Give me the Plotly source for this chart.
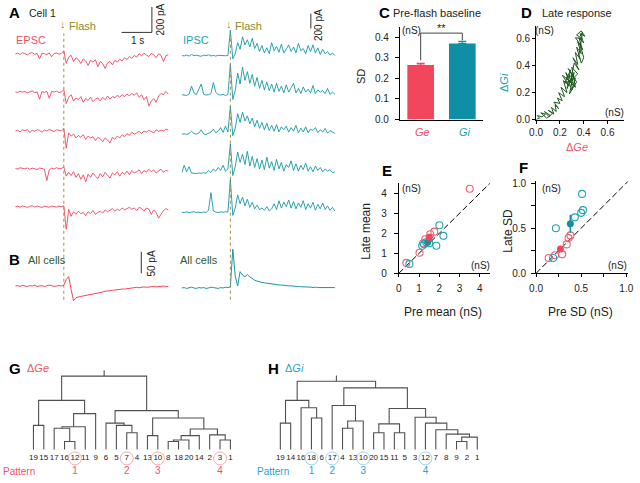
import plotly.graph_objects as go

W, H = 640, 483
FONT = "Liberation Sans, Arial, Helvetica, sans-serif"

RED = "#F2465C"; RED_TXT = "#EE5566"; RED_PALE = "#F2A0AA"
TEAL = "#1597A9"; TEAL_TXT = "#22A2B8"; TEAL_PALE = "#9ACFDC"
BLUE_TXT = "#2E9FD0"
GREEN = "#1E5A1E"; GREEN_TXT = "#2E5B2E"
OLIVE = "#8C8A2A"; DARK = "#222222"; GRAY = "#505050"

# ---------------- data ----------------
sample_interval_s = 0.08
flash_time_s = 1.6

# Panel A, EPSC trials (pA, inward = negative)
epsc_trial_1 = [0, 6, -4, 9, 2, -8, 5, 10, -3, 4, -38, 6, 2, -5, 8, -22, 3, 7, -2, 4,
                24, -75,
                -25, -10, -60, -30, -45, -75, -40, -55, -90, -50, -65, -45, -100, -60, -75, -115, -70, -60, -85, -50,
                -65, -40, -55, -30, -45, -20, -35, -12, -25, 2, -15, 6, -8, -20, 4, -6, -30, 2, -10, -60, -15, -5]
epsc_trial_2 = [3, -2, 8, 0, 5, -6, 2, 9, -4, 3, -55, 4, -2, 6, -48, 5, 0, 8, -3, 2,
                20, -90,
                -40, -20, -70, -45, -60, -35, -80, -50, -65, -40, -75, -55, -45, -70, -40, -60, -30, -55, -35, -45,
                -25, -40, -20, -35, -15, -30, -10, -25, -5, -40, -20, -60, -35, -110, -70, -50, -80, -30, -10, -20, 5, -15]
epsc_trial_3 = [-5, 0, -12, 4, -3, 6, -18, 2, -8, 5, 0, -15, 3, -6, 8, -2, -10, 4, 0, -4,
                15, -140,
                -20, -45, -30, -60, -40, -55, -35, -70, -45, -60, -50, -80, -55, -65, -90, -60, -75, -100, -55, -70,
                -45, -60, -35, -50, -25, -40, -15, -30, -20, -8, -25, -5, -15, 0, -10, -20, 4, -8, 2, -5, 8, 3]
epsc_trial_4 = [2, -4, 6, 0, -3, 5, -6, 3, 0, -8, 4, -2, -5, -95, -10, 3, -4, 6, -2, 0,
                12, -60,
                -30, -55, -25, -70, -40, -85, -50, -105, -45, -70, -35, -60, -80, -40, -65, -30, -55, -75, -35, -50,
                -25, -60, -30, -45, -20, -50, -15, -35, -25, -10, -40, -15, -30, -5, -25, -10, -35, -20, -5, -30, -15, -20]
epsc_trial_5 = [0, 4, -3, 6, 1, -5, 3, 8, -2, 5, 0, -6, 4, 2, -4, 6, 0, -3, 5, 1,
                8, -185,
                -20, -75, -40, -60, -35, -55, -45, -70, -40, -55, -30, -60, -45, -35, -50, -25, -40, -30, -15, -35,
                -20, -30, -10, -25, -15, -5, -20, -10, -30, -5, -15, -35, -10, -20, -60, -25, -45, -90, -60, -30, -15, -25]

# Panel A, IPSC trials (pA, outward = positive)
ipsc_trial_1 = [5, 0, 12, -3, 20, 4, 8, 0, -5, 10, 3, 15, 0, 6, -2, 8, 4, 10, 2, 6,
                350, -40,
                30, 180, 90, 260, 150, 220, 120, 240, 100, 170, 60, 140, 40, 110, 30, 180, 70, 130, 50, 160,
                40, 90, 150, 60, 120, 40, 170, 70, 100, 30, 140, 60, 150, 40, 110, 20, 90, 30, 60, 10, 40, 5]
ipsc_trial_2 = [5, 0, -5, 10, 120, 30, 5, 80, 150, 10, 0, 5, 20, 170, 40, 5, 0, 10, -5, 8,
                420, -60,
                60, 300, 150, 380, 200, 320, 160, 280, 120, 240, 90, 200, 70, 180, 60, 150, 40, 160, 50, 120,
                30, 140, 40, 100, 160, 30, 90, 20, 110, 40, 80, 30, 130, 20, 70, 40, 60, 20, 90, 10, 40, 10]
ipsc_trial_3 = [0, 5, -3, 8, 40, 10, 0, 15, 60, 5, -5, 10, 30, 70, 20, 40, 90, 25, 110, 30,
                380, -20,
                80, 280, 160, 300, 180, 250, 140, 220, 100, 190, 80, 160, 60, 150, 50, 120, 40, 130, 30, 100,
                60, 110, 30, 90, 40, 120, 20, 80, 30, 100, 20, 70, 50, 90, 20, 60, 30, 80, 15, 50, 25, 10]
ipsc_trial_4 = [10, 110, 20, 90, 5, 0, -3, 5, 0, 8, 2, 40, 10, 60, 30, 80, 40, 110, 30, 60,
                400, -30,
                90, 290, 150, 260, 120, 300, 100, 230, 80, 200, 60, 180, 50, 220, 70, 160, 40, 190, 60, 150,
                30, 120, 80, 170, 40, 130, 30, 110, 50, 140, 30, 90, 20, 100, 40, 80, 20, 60, 30, 50, 10, 20]
ipsc_trial_5 = [5, 0, 8, -2, 5, 10, 0, 4, -3, 6, 2, 30, 270, 20, 5, 0, 8, 3, 10, 5,
                450, -40,
                60, 240, 120, 210, 90, 180, 70, 140, 50, 100, 40, 60, 30, 80, 20, 50, 120, 40, 160, 60,
                140, 80, 170, 60, 150, 50, 130, 70, 160, 40, 120, 60, 140, 30, 110, 50, 130, 40, 90, 30, 70, 20]

# Panel B, averages over all cells (pA)
epsc_all_cells = [0, 1, -1, 2, 0, -1, 1, 0, 2, -1, 0, 1, -1, 0, 2, 1, -1, 0, 1, 0,
                  2, 15, 22, -8, -34, -27, -25, -24, -23, -22,
                  -20, -19, -18, -17, -16, -15, -14, -12, -12, -11,
                  -10, -9, -9, -8, -7, -7, -6, -5, -5, -4,
                  -3, -4, -3, -2, -3, -2, -2, -1, -2, -1, -1, 0, -1, -1]
ipsc_all_cells = [0, 1, -1, 0, 2, 0, -1, 1, 0, 1, -1, 0, 2, 1, 0, -1, 1, 0, 2, 1,
                  3, 90, 28, 5, 38, 30, 26, 31, 26, 21,
                  18, 16, 14, 13, 12, 11, 10, 9, 9, 8,
                  7, 7, 6, 6, 5, 5, 4, 4, 3, 3,
                  3, 2, 2, 2, 1, 2, 1, 1, 1, 0, 1, 0, 0, 1]

# Panel C
conductances = ["Ge", "Gi"]
baseline_sd_nS = [0.265, 0.370]
baseline_sd_sem = [0.008, 0.010]

# Panel D, late response trajectory (nS)
late_dGe = [0.00, 0.03, 0.01, 0.05, 0.08, 0.04, 0.09, 0.12, 0.07, 0.11,
            0.14, 0.10, 0.15, 0.13, 0.17, 0.16, 0.19, 0.15, 0.20, 0.18,
            0.22, 0.19, 0.24, 0.21, 0.26, 0.23, 0.28, 0.22, 0.27, 0.31,
            0.25, 0.30, 0.33, 0.24, 0.29, 0.26, 0.32, 0.28, 0.34, 0.27,
            0.31, 0.25, 0.33, 0.30, 0.35, 0.29, 0.32, 0.36, 0.31, 0.35,
            0.33, 0.37, 0.34, 0.38, 0.35, 0.39, 0.36, 0.40, 0.37, 0.41,
            0.38, 0.34, 0.39, 0.33, 0.37, 0.40, 0.38, 0.36, 0.39, 0.37]
late_dGi = [0.00, 0.01, 0.03, 0.02, 0.04, 0.05, 0.01, 0.03, 0.06, 0.02,
            0.05, 0.07, 0.04, 0.09, 0.06, 0.11, 0.08, 0.13, 0.12, 0.16,
            0.14, 0.20, 0.17, 0.24, 0.20, 0.29, 0.25, 0.33, 0.30, 0.27,
            0.35, 0.22, 0.31, 0.27, 0.37, 0.23, 0.35, 0.19, 0.28, 0.38,
            0.33, 0.31, 0.24, 0.39, 0.34, 0.29, 0.42, 0.37, 0.46, 0.41,
            0.50, 0.45, 0.54, 0.49, 0.58, 0.52, 0.61, 0.57, 0.64, 0.62,
            0.66, 0.63, 0.60, 0.61, 0.56, 0.46, 0.42, 0.48, 0.65, 0.62]

# Panel E (nS)
pre_mean_ge = [0.37, 1.02, 1.20, 1.30, 1.55, 1.75, 3.50]
late_mean_ge = [0.52, 1.03, 1.50, 1.70, 1.95, 2.08, 4.22]
pre_mean_gi = [0.52, 1.15, 1.25, 1.35, 1.50, 1.85, 2.00, 2.20]
late_mean_gi = [0.47, 1.38, 1.45, 1.55, 1.50, 1.38, 2.40, 1.87]
avg_mean_ge = [1.50, 1.80]; sem_mean_ge = [0.15, 0.18]
avg_mean_gi = [1.42, 1.55]; sem_mean_gi = [0.12, 0.12]

# Panel F (nS)
pre_sd_ge = [0.14, 0.21, 0.29, 0.34, 0.36, 0.38]
late_sd_ge = [0.17, 0.20, 0.21, 0.32, 0.39, 0.42]
pre_sd_gi = [0.19, 0.22, 0.43, 0.50, 0.52, 0.51]
late_sd_gi = [0.17, 0.50, 0.62, 0.67, 0.70, 0.88]
avg_sd_ge = [0.27, 0.27]; sem_sd_ge = [0.02, 0.03]
avg_sd_gi = [0.38, 0.55]; sem_sd_gi = [0.03, 0.10]

# Panels G / H, dendrograms (leaf order, merges: child a, child b, distance)
ge_leaves = ["19", "15", "17", "16", "12", "11", "9", "6", "5", "7", "4", "13", "10", "8", "18", "20", "14", "2", "3", "1"]
ge_merges = [(0, 1, 0.33), (3, 4, 0.11), (2, 21, 0.29), (22, 5, 0.31), (23, 6, 0.49), (20, 24, 0.67),
             (9, 10, 0.23), (8, 26, 0.33), (7, 27, 0.36), (11, 12, 0.19), (13, 14, 0.11), (30, 15, 0.13),
             (31, 16, 0.19), (18, 19, 0.13), (17, 33, 0.20), (32, 34, 0.28), (29, 35, 0.43), (28, 36, 0.53),
             (25, 37, 1.00)]
ge_pattern_leaves = ["12", "7", "10", "3"]
gi_leaves = ["19", "14", "16", "18", "6", "17", "4", "13", "10", "20", "15", "11", "5", "3", "12", "7", "8", "9", "2", "1"]
gi_merges = [(0, 1, 0.36), (3, 4, 0.43), (2, 21, 0.57), (20, 22, 0.67), (6, 7, 0.29), (24, 8, 0.39),
             (5, 25, 0.60), (9, 10, 0.23), (11, 12, 0.23), (27, 28, 0.35), (17, 18, 0.11), (30, 19, 0.17),
             (16, 31, 0.21), (15, 32, 0.27), (14, 33, 0.36), (13, 34, 0.44), (29, 35, 0.56), (26, 36, 0.84),
             (23, 37, 0.93)]
gi_pattern_leaves = ["18", "17", "10", "12"]
pattern_names = ["1", "2", "3", "4"]

# ---------------- layout helpers ----------------
def xd(p0, p1):
    return [p0 / W, p1 / W]

def yd(top, bottom):
    return [1 - bottom / H, 1 - top / H]

def hidden_axis(domain, rng, anchor):
    return dict(domain=domain, range=rng, visible=False, anchor=anchor, fixedrange=True)

TICKFONT = dict(family=FONT, size=10, color=DARK)

def shown_axis(domain, rng, anchor, **kw):
    d = dict(domain=domain, range=rng, anchor=anchor, showline=True, linecolor="black", linewidth=1,
             ticks="outside", ticklen=3, tickwidth=1, tickcolor="black", showgrid=False, zeroline=False,
             tickfont=TICKFONT, fixedrange=True)
    d.update(kw)
    return d

fig = go.Figure()
traces = []

# ----- Panel A geometry -----
PX_PER_S = 31.0
EL_X0 = 58 - flash_time_s * PX_PER_S     # px where t=0 (left)
IR_X0 = 228 - flash_time_s * PX_PER_S    # px where t=0 (right)
T_END = 5.1
E_BASE_PX, E_PX_PER_PA, E_GAP = 51, 26 / 200, 300
I_BASE_PX, I_PX_PER_PA, I_GAP = 53, 15 / 200, 533
A_TOP, A_BOT = 0, 230

layout = dict(
    xaxis=hidden_axis(xd(EL_X0, EL_X0 + T_END * PX_PER_S), [0, T_END], "y"),
    yaxis=hidden_axis(yd(A_TOP, A_BOT), [(E_BASE_PX - A_BOT) / E_PX_PER_PA, (E_BASE_PX - A_TOP) / E_PX_PER_PA], "x"),
    xaxis2=hidden_axis(xd(IR_X0, IR_X0 + T_END * PX_PER_S), [0, T_END], "y2"),
    yaxis2=hidden_axis(yd(A_TOP, A_BOT), [(I_BASE_PX - A_BOT) / I_PX_PER_PA, (I_BASE_PX - A_TOP) / I_PX_PER_PA], "x2"),
)

for k, tr in enumerate([epsc_trial_1, epsc_trial_2, epsc_trial_3, epsc_trial_4, epsc_trial_5]):
    traces.append(go.Scatter(x=[i * sample_interval_s for i in range(len(tr))], y=[v - k * E_GAP for v in tr],
                             mode="lines", line=dict(color=RED, width=0.9), xaxis="x", yaxis="y"))
for k, tr in enumerate([ipsc_trial_1, ipsc_trial_2, ipsc_trial_3, ipsc_trial_4, ipsc_trial_5]):
    traces.append(go.Scatter(x=[i * sample_interval_s for i in range(len(tr))], y=[v - k * I_GAP for v in tr],
                             mode="lines", line=dict(color=TEAL, width=0.9), xaxis="x2", yaxis="y2"))

# scale bars A
sb_y = (E_BASE_PX - 29) / E_PX_PER_PA
traces.append(go.Scatter(x=[3.5, 4.5, 4.5], y=[sb_y, sb_y, sb_y + 200], mode="lines",
                         line=dict(color="#333", width=1), xaxis="x", yaxis="y"))
sb_yi = (I_BASE_PX - 25) / I_PX_PER_PA
traces.append(go.Scatter(x=[4.25, 4.25], y=[sb_yi, sb_yi + 200], mode="lines",
                         line=dict(color="#333", width=1), xaxis="x2", yaxis="y2"))

# ----- Panel B -----
B_TOP, B_BOT, B_PX_PER_PA = 235, 312, 22 / 50
layout["xaxis3"] = hidden_axis(xd(EL_X0, EL_X0 + T_END * PX_PER_S), [0, T_END], "y3")
layout["yaxis3"] = hidden_axis(yd(B_TOP, B_BOT), [(288 - B_BOT) / B_PX_PER_PA, (288 - B_TOP) / B_PX_PER_PA], "x3")
layout["xaxis4"] = hidden_axis(xd(IR_X0, IR_X0 + T_END * PX_PER_S), [0, T_END], "y4")
layout["yaxis4"] = hidden_axis(yd(B_TOP, B_BOT), [(290 - B_BOT) / B_PX_PER_PA, (290 - B_TOP) / B_PX_PER_PA], "x4")
traces.append(go.Scatter(x=[i * sample_interval_s for i in range(len(epsc_all_cells))], y=epsc_all_cells,
                         mode="lines", line=dict(color=RED, width=1), xaxis="x3", yaxis="y3"))
traces.append(go.Scatter(x=[i * sample_interval_s for i in range(len(ipsc_all_cells))], y=ipsc_all_cells,
                         mode="lines", line=dict(color=TEAL, width=1), xaxis="x4", yaxis="y4"))
sb_b = (288 - 275) / B_PX_PER_PA
traces.append(go.Scatter(x=[4.15, 4.15], y=[sb_b, sb_b + 50], mode="lines",
                         line=dict(color="#333", width=1), xaxis="x3", yaxis="y3"))

# ----- Panel C -----
layout["xaxis5"] = shown_axis(xd(401, 486), [-0.5, 1.5], "y5", ticks="", showticklabels=False)
layout["yaxis5"] = shown_axis(yd(23, 118), [0, 0.452], "x5", tickvals=[0, 0.1, 0.2, 0.3, 0.4],
                              tickformat=".1f", ticklen=4, ticklabelstandoff=4)
for i, (c, col) in enumerate(zip(conductances, [RED, "#0E8FA6"])):
    traces.append(go.Bar(x=[i], y=[baseline_sd_nS[i]], width=0.64, marker=dict(color=col, line=dict(width=0)),
                         error_y=dict(type="data", symmetric=False, array=[baseline_sd_sem[i]], arrayminus=[0],
                                      color=col, thickness=1.2, width=4),
                         xaxis="x5", yaxis="y5"))
br_top = max(v + e for v, e in zip(baseline_sd_nS, baseline_sd_sem)) + 0.04
traces.append(go.Scatter(x=[0, 0, 1, 1],
                         y=[baseline_sd_nS[0] + baseline_sd_sem[0] + 0.015, br_top, br_top,
                            baseline_sd_nS[1] + baseline_sd_sem[1] + 0.005],
                         mode="lines", line=dict(color="#444", width=1), xaxis="x5", yaxis="y5"))

# ----- Panel D -----
layout["xaxis6"] = shown_axis(xd(540, 630), [0, 0.74], "y6", tickvals=[0, 0.2, 0.4, 0.6], tickformat=".1f")
layout["yaxis6"] = shown_axis(yd(22, 118), [0, 0.70], "x6", tickvals=[0, 0.2, 0.4, 0.6], tickformat=".1f")
traces.append(go.Scatter(x=late_dGe, y=late_dGi, mode="lines", line=dict(color=GREEN, width=1),
                         xaxis="x6", yaxis="y6"))

# ----- Panel E -----
layout["xaxis7"] = shown_axis(xd(400, 493), [0, 4.5], "y7", tickvals=[0, 1, 2, 3, 4], ticklabelstandoff=3)
layout["yaxis7"] = shown_axis(yd(183, 275), [0, 4.5], "x7", tickvals=[0, 1, 2, 3, 4], ticklen=4, ticklabelstandoff=5)
traces.append(go.Scatter(x=[0, 4.5], y=[0, 4.5], mode="lines", line=dict(color="black", width=1, dash="6px,3px"),
                         xaxis="x7", yaxis="y7"))
traces.append(go.Scatter(x=pre_mean_ge, y=late_mean_ge, mode="markers",
                         marker=dict(symbol="circle-open", size=7, color="#EE6070", line=dict(width=1.1)),
                         xaxis="x7", yaxis="y7"))
traces.append(go.Scatter(x=pre_mean_gi, y=late_mean_gi, mode="markers",
                         marker=dict(symbol="circle-open", size=7, color="#22A3B5", line=dict(width=1.1)),
                         xaxis="x7", yaxis="y7"))
traces.append(go.Scatter(x=[avg_mean_gi[0]], y=[avg_mean_gi[1]], mode="markers",
                         marker=dict(size=7, color="#13909F"),
                         error_x=dict(array=[sem_mean_gi[0]], color="#13909F", thickness=1.5, width=0),
                         error_y=dict(array=[sem_mean_gi[1]], color="#13909F", thickness=1.5, width=0),
                         xaxis="x7", yaxis="y7"))
traces.append(go.Scatter(x=[avg_mean_ge[0]], y=[avg_mean_ge[1]], mode="markers",
                         marker=dict(size=7, color=RED),
                         error_x=dict(array=[sem_mean_ge[0]], color=RED, thickness=1.5, width=0),
                         error_y=dict(array=[sem_mean_ge[1]], color=RED, thickness=1.5, width=0),
                         xaxis="x7", yaxis="y7"))

# ----- Panel F -----
qt = [0, 0.25, 0.5, 0.75, 1.0]
qtxt = ["0.0", "", "0.5", "", "1.0"]
layout["xaxis8"] = shown_axis(xd(540, 634), [0, 1.02], "y8", tickvals=qt, ticktext=qtxt, ticklabelstandoff=3)
layout["yaxis8"] = shown_axis(yd(181, 275), [0, 1.02], "x8", tickvals=qt, ticktext=qtxt, ticklen=4, ticklabelstandoff=3)
traces.append(go.Scatter(x=[0, 1.02], y=[0, 1.02], mode="lines", line=dict(color="black", width=1, dash="6px,3px"),
                         xaxis="x8", yaxis="y8"))
traces.append(go.Scatter(x=pre_sd_ge, y=late_sd_ge, mode="markers",
                         marker=dict(symbol="circle-open", size=7, color="#EE6070", line=dict(width=1.1)),
                         xaxis="x8", yaxis="y8"))
traces.append(go.Scatter(x=pre_sd_gi, y=late_sd_gi, mode="markers",
                         marker=dict(symbol="circle-open", size=7, color="#22A3B5", line=dict(width=1.1)),
                         xaxis="x8", yaxis="y8"))
traces.append(go.Scatter(x=[avg_sd_gi[0]], y=[avg_sd_gi[1]], mode="markers",
                         marker=dict(size=7, color="#13909F"),
                         error_x=dict(array=[sem_sd_gi[0]], color="#13909F", thickness=1.5, width=0),
                         error_y=dict(array=[sem_sd_gi[1]], color="#13909F", thickness=1.5, width=0),
                         xaxis="x8", yaxis="y8"))
traces.append(go.Scatter(x=[avg_sd_ge[0]], y=[avg_sd_ge[1]], mode="markers",
                         marker=dict(size=7, color=RED),
                         error_x=dict(array=[sem_sd_ge[0]], color=RED, thickness=1.5, width=0),
                         error_y=dict(array=[sem_sd_ge[1]], color=RED, thickness=1.5, width=0),
                         xaxis="x8", yaxis="y8"))

# ----- Panels G / H -----
LEAF_PX0_G, LEAF_PX0_H, LEAF_STEP = 27, 279, 10.58
BASE_PX, PX_PER_UNIT = 455, 75.0
D_TOP, D_BOT = 360, 483
LABEL_H = (BASE_PX - 464) / PX_PER_UNIT
PATTERN_H = (BASE_PX - 477) / PX_PER_UNIT
dy_range = [(BASE_PX - D_BOT) / PX_PER_UNIT, (BASE_PX - D_TOP) / PX_PER_UNIT]
layout["xaxis9"] = hidden_axis(xd(0, 250), [-LEAF_PX0_G / LEAF_STEP, (250 - LEAF_PX0_G) / LEAF_STEP], "y9")
layout["yaxis9"] = hidden_axis(yd(D_TOP, D_BOT), dy_range, "x9")
layout["xaxis10"] = hidden_axis(xd(250, 500), [-(LEAF_PX0_H - 250) / LEAF_STEP, (500 - LEAF_PX0_H) / LEAF_STEP], "y10")
layout["yaxis10"] = hidden_axis(yd(D_TOP, D_BOT), dy_range, "x10")


def dendro(merges, n):
    cx = {i: float(i) for i in range(n)}
    hh = {i: 0.0 for i in range(n)}
    xs, ys = [], []
    for k, (a, b, h) in enumerate(merges):
        xs += [cx[a], cx[a], cx[b], cx[b], None]
        ys += [hh[a], h, h, hh[b], None]
        cx[n + k] = (cx[a] + cx[b]) / 2
        hh[n + k] = h
    r = n + len(merges) - 1
    xs += [cx[r], cx[r], None]
    ys += [hh[r], hh[r] + 0.08, None]
    return xs, ys


for leaves, merges, pats, ax, pale, ptxt in [
        (ge_leaves, ge_merges, ge_pattern_leaves, "9", RED_PALE, RED_TXT),
        (gi_leaves, gi_merges, gi_pattern_leaves, "10", TEAL_PALE, BLUE_TXT)]:
    xs, ys = dendro(merges, len(leaves))
    traces.append(go.Scatter(x=xs, y=ys, mode="lines", line=dict(color=GRAY, width=1.1),
                             xaxis="x" + ax, yaxis="y" + ax))
    traces.append(go.Scatter(x=list(range(len(leaves))), y=[LABEL_H] * len(leaves), mode="text", text=leaves,
                             textfont=dict(family=FONT, size=8, color=DARK), cliponaxis=False,
                             xaxis="x" + ax, yaxis="y" + ax))
    idx = [leaves.index(p) for p in pats]
    traces.append(go.Scatter(x=idx, y=[LABEL_H] * len(idx), mode="markers",
                             marker=dict(symbol="circle-open", size=13, color=pale, line=dict(width=0.9)),
                             cliponaxis=False, xaxis="x" + ax, yaxis="y" + ax))
    traces.append(go.Scatter(x=idx, y=[PATTERN_H] * len(idx), mode="text", text=pattern_names,
                             textfont=dict(family=FONT, size=10, color=ptxt), cliponaxis=False,
                             xaxis="x" + ax, yaxis="y" + ax))

for t in traces:
    fig.add_trace(t)

# ----- annotations -----
anns = []

def ann(text, px, py, size=10, color=DARK, angle=0, xanchor="center"):
    anns.append(dict(text=text, x=px / W, y=1 - py / H, xref="paper", yref="paper", showarrow=False,
                     xanchor=xanchor, yanchor="middle", textangle=angle,
                     font=dict(family=FONT, size=size, color=color)))

ann("<b>A</b>", 8, 9, 15, "black")
ann("Cell 1", 36, 9, 10.5)
ann("↓", 57, 20, 11, OLIVE)
ann("Flash", 77, 22, 11, OLIVE)
ann("↓", 227, 20, 11, OLIVE)
ann("Flash", 247, 22, 11, OLIVE)
ann("EPSC", 25, 37, 11, RED_TXT)
ann("IPSC", 193, 37, 11, TEAL_TXT)
ann("1 s", 133, 37, 10)
ann("200 pA", 157, 16, 10, angle=-90)
ann("200 pA", 318, 22, 10, angle=-90)
ann("<b>B</b>", 8, 261, 15, "black")
ann("All cells", 41, 261, 11, GREEN_TXT)
ann("All cells", 196, 261, 11, GREEN_TXT)
ann("50 pA", 147, 265, 10, angle=-90)
ann("<b>C</b>", 385, 9, 15, "black")
ann("Pre-flash baseline", 439, 9, 11)
ann("SD", 362, 74, 11, angle=-90)
ann("(nS)", 413, 27, 10)
ann("**", 443, 24, 11)
ann("<i>Ge</i>", 424, 131, 11, RED_TXT)
ann("<i>Gi</i>", 467, 131, 11, TEAL_TXT)
ann("<b>D</b>", 530, 9, 15, "black")
ann("Late response", 582, 9, 11)
ann("Δ<i>Gi</i>", 508, 80, 11, TEAL_TXT, angle=-90)
ann("Δ<i>Ge</i>", 582, 146, 11, RED_TXT)
ann("(nS)", 549, 27, 10)
ann("(nS)", 620, 111, 10)
ann("<b>E</b>", 388, 170, 15, "black")
ann("(nS)", 413, 188, 10)
ann("(nS)", 483, 267, 10)
ann("Late mean", 367, 232, 12, angle=-90)
ann("Pre mean (nS)", 445, 315, 12)
ann("<b>F</b>", 527, 167, 15, "black")
ann("(nS)", 556, 188, 10)
ann("(nS)", 623, 267, 10)
ann("Late SD", 512, 232, 12, angle=-90)
ann("Pre SD (nS)", 585, 315, 12)
ann("<b>G</b>", 8, 372, 15, "black")
ann("Δ<i>Ge</i>", 32, 372, 11, RED_TXT)
ann("<b>H</b>", 272, 372, 15, "black")
ann("Δ<i>Gi</i>", 293, 372, 11, BLUE_TXT)
ann("Pattern", 12, 477, 10, RED_TXT)
ann("Pattern", 272, 477, 10, BLUE_TXT)

shapes = []
for xr in ["x", "x2"]:
    shapes.append(dict(type="line", xref=xr, yref="paper", x0=flash_time_s, x1=flash_time_s,
                       y0=1 - 302 / H, y1=1 - 30 / H, line=dict(color="#A09040", width=1, dash="dot")))

layout.update(dict(width=W, height=H, autosize=False, margin=dict(l=0, r=0, t=0, b=0),
                   paper_bgcolor="white", plot_bgcolor="rgba(0,0,0,0)", showlegend=False,
                   barmode="overlay", annotations=anns, shapes=shapes, hovermode=False,
                   font=dict(family=FONT, size=10, color=DARK)))
fig.update_layout(**layout)
fig.write_html("out.html", config={"displayModeBar": False, "staticPlot": True},
               post_script="document.body.style.margin='0px';document.body.style.overflow='hidden';")
